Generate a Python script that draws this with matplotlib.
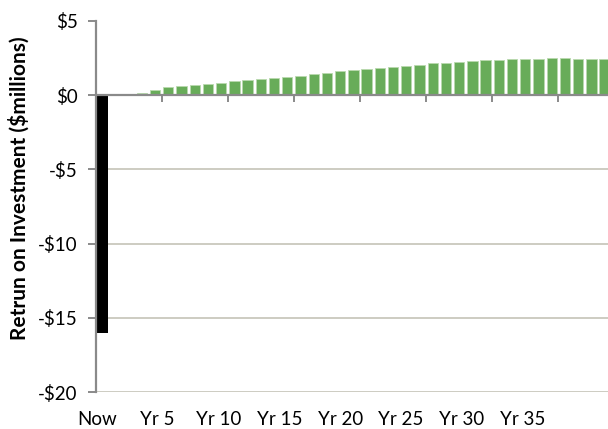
import matplotlib.pyplot as plt
import numpy as np

plt.rcParams['font.family'] = ['Lato', 'DejaVu Sans']

# investment at "Now", then yearly returns ($ millions)
initial_cost = -16.0
yearly_return = [0.0, 0.05, 0.13, 0.32, 0.58, 0.65, 0.72, 0.78, 0.85, 0.93,
                 1.00, 1.09, 1.16, 1.24, 1.32, 1.41, 1.49, 1.60, 1.68, 1.77,
                 1.86, 1.93, 2.00, 2.06, 2.16, 2.20, 2.27, 2.31, 2.36, 2.38,
                 2.42, 2.44, 2.47, 2.49, 2.49, 2.47, 2.44, 2.42]
x_labels = ['Now', 'Yr 5', 'Yr 10', 'Yr 15', 'Yr 20', 'Yr 25', 'Yr 30', 'Yr 35']
y_ticks = [5, 0, -5, -10, -15, -20]
grid_levels = [-5, -10, -15, -20]

years = np.arange(1, len(yearly_return) + 1)

fig = plt.figure(figsize=(6.08, 4.29), dpi=100)
ax = fig.add_axes([95.6 / 608, 37 / 429, 515.6 / 608, 371 / 429])

ax.hlines(grid_levels, -0.5, 38.5, colors='#c9c8bd', linewidth=1.3, zorder=0)

ax.bar(0, initial_cost, width=0.85, color='black', zorder=2)
ax.bar(years, yearly_return, width=0.78, color='#68ac59',
       edgecolor='#b9d9ae', linewidth=0.6, zorder=2)

ax.set_xlim(-0.5, 38.5)
ax.set_ylim(-20, 5)

# category axis sits on zero, tick marks between every 5th bar
for s in ['top', 'right']:
    ax.spines[s].set_visible(False)
ax.spines['bottom'].set_position(('data', 0))
ax.spines['bottom'].set_color('#8a8a8a')
ax.spines['bottom'].set_linewidth(1.6)
ax.spines['bottom'].set_zorder(3)
ax.spines['left'].set_color('#8a8a8a')
ax.spines['left'].set_linewidth(1.6)
ax.set_xticks(np.arange(4.5, 38, 5))
ax.tick_params(axis='x', direction='out', length=5, width=1.4,
               color='#8a8a8a', labelbottom=False)

ax.set_yticks(y_ticks)
ax.set_yticklabels(['$%d' % v if v >= 0 else '-$%d' % -v for v in y_ticks])
ax.tick_params(axis='y', direction='out', length=6, width=1.4,
               color='#8a8a8a', labelsize=13.5, pad=7)
ax.set_ylabel('Retrun on Investment ($millions)', fontsize=15,
              fontweight='bold')
ax.yaxis.set_label_coords(-0.128, 0.55)

# labels along the bottom edge
ax2 = ax.twiny()
ax2.set_xlim(ax.get_xlim())
ax2.xaxis.set_ticks_position('bottom')
ax2.xaxis.set_label_position('bottom')
for s in ax2.spines.values():
    s.set_visible(False)
label_pos = -0.4 + 4.6 * np.arange(len(x_labels))
ax2.set_xticks(label_pos)
ax2.set_xticklabels(x_labels)
ax2.tick_params(axis='x', length=0, labelsize=13.5, pad=14)

fig.savefig('out.png', dpi=100)
